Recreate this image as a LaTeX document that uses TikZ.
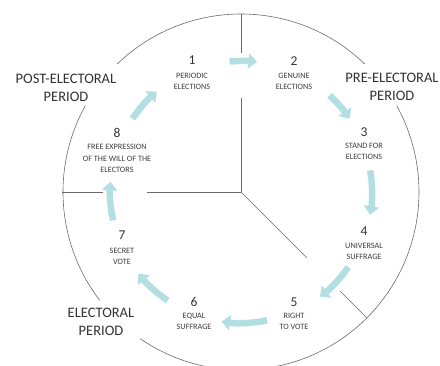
\documentclass[tikz,border=0pt]{standalone}
\usepackage{fontspec}
\setmainfont{Carlito}
\usepackage{tikz}
\definecolor{cyc}{HTML}{B3DEE2}
\definecolor{rim}{HTML}{6A6A6A}
\definecolor{ink}{HTML}{333333}
\definecolor{inkl}{HTML}{3C3C3C}
\usetikzlibrary{arrows.meta}

\tikzset{
	period/.style={align=center, text=ink, font=\fontsize{14.5}{17.5}\selectfont, inner sep=0pt},
	stepnum/.style={text=ink, font=\fontsize{13.5}{14}\selectfont, inner sep=0pt},
	steptext/.style={align=center, text=inkl, font=\fontsize{8.2}{11.2}\selectfont, inner sep=0pt},
	flow/.style={line width=6.5pt, cyc, -{Triangle[length=8.5pt,width=15pt]}},
	rimline/.style={rim, line width=0.6pt}
}

\begin{document}
\begin{tikzpicture}[x=1pt,y=1pt]

		\useasboundingbox (-241,-173) rectangle (199,192);
		\clip (-241,-173) rectangle (199,192);

		% Circle, open at the three period labels
		\draw[rimline] (46:178) arc[start angle=46, end angle=134, radius=178pt];
		\draw[rimline] (151:178) arc[start angle=151, end angle=217.5, radius=178pt];
		\draw[rimline] (235.5:178) arc[start angle=235.5, end angle=389, radius=178pt];

		% Sector lines
		\coordinate (o) at (0,0);
		\draw[rimline] (90:178) -- (90:139);
		\draw[rimline] (90:94) -- (o);
		\draw[rimline] (180:179) -- (180:138);
		\draw[rimline] (180:94) -- (o);
		\draw[rimline] (-45:178) -- (-45:140);
		\draw[rimline] (-45:93) -- (o);

		% Periods
		\node[period] (post) at (-175,104) {POST-ELECTORAL\\PERIOD};
		\node[period] (pre) at (151,105) {PRE-ELECTORAL\\PERIOD};
		\node[period] (elec) at (-140,-130) {ELECTORAL\\PERIOD};

		% Steps
		\node[stepnum] (n1) at (-49,132) {1};
		\node[steptext] (t1) at (-49,110.5) {PERIODIC\\ELECTIONS};
		\node[stepnum] (n2) at (53,131) {2};
		\node[steptext] (t2) at (53,110.5) {GENUINE\\ELECTIONS};
		\node[stepnum] (n3) at (123,60) {3};
		\node[steptext] (t3) at (123,40.5) {STAND FOR\\ELECTIONS};
		\node[stepnum] (n4) at (123,-39) {4};
		\node[steptext] (t4) at (123,-59.5) {UNIVERSAL\\SUFFRAGE};
		\node[stepnum] (n5) at (53,-110) {5};
		\node[steptext] (t5) at (53,-129.5) {RIGHT\\TO VOTE};
		\node[stepnum] (n6) at (-47,-110) {6};
		\node[steptext] (t6) at (-47,-129.5) {EQUAL\\SUFFRAGE};
		\node[stepnum] (n7) at (-119,-43) {7};
		\node[steptext] (t7) at (-119,-64) {SECRET\\VOTE};
		\node[stepnum] (n8) at (-124,59) {8};
		\node[steptext] (t8) at (-124,33.5) {FREE EXPRESSION\\OF THE WILL OF THE\\ELECTORS};

		% Cycle arrows
		\foreach \s/\e [count=\i] in {146/130, 95/83, 47.5/34, 9.5/-10, -35/-53, -78.5/-98.5, -124/-141.5, -167.5/-184.5}{
			\coordinate (a\i) at (\s:131);
			\draw[flow] (a\i) arc[start angle=\s, end angle=\e, radius=131pt];
		}

	\end{tikzpicture}
\end{document}
